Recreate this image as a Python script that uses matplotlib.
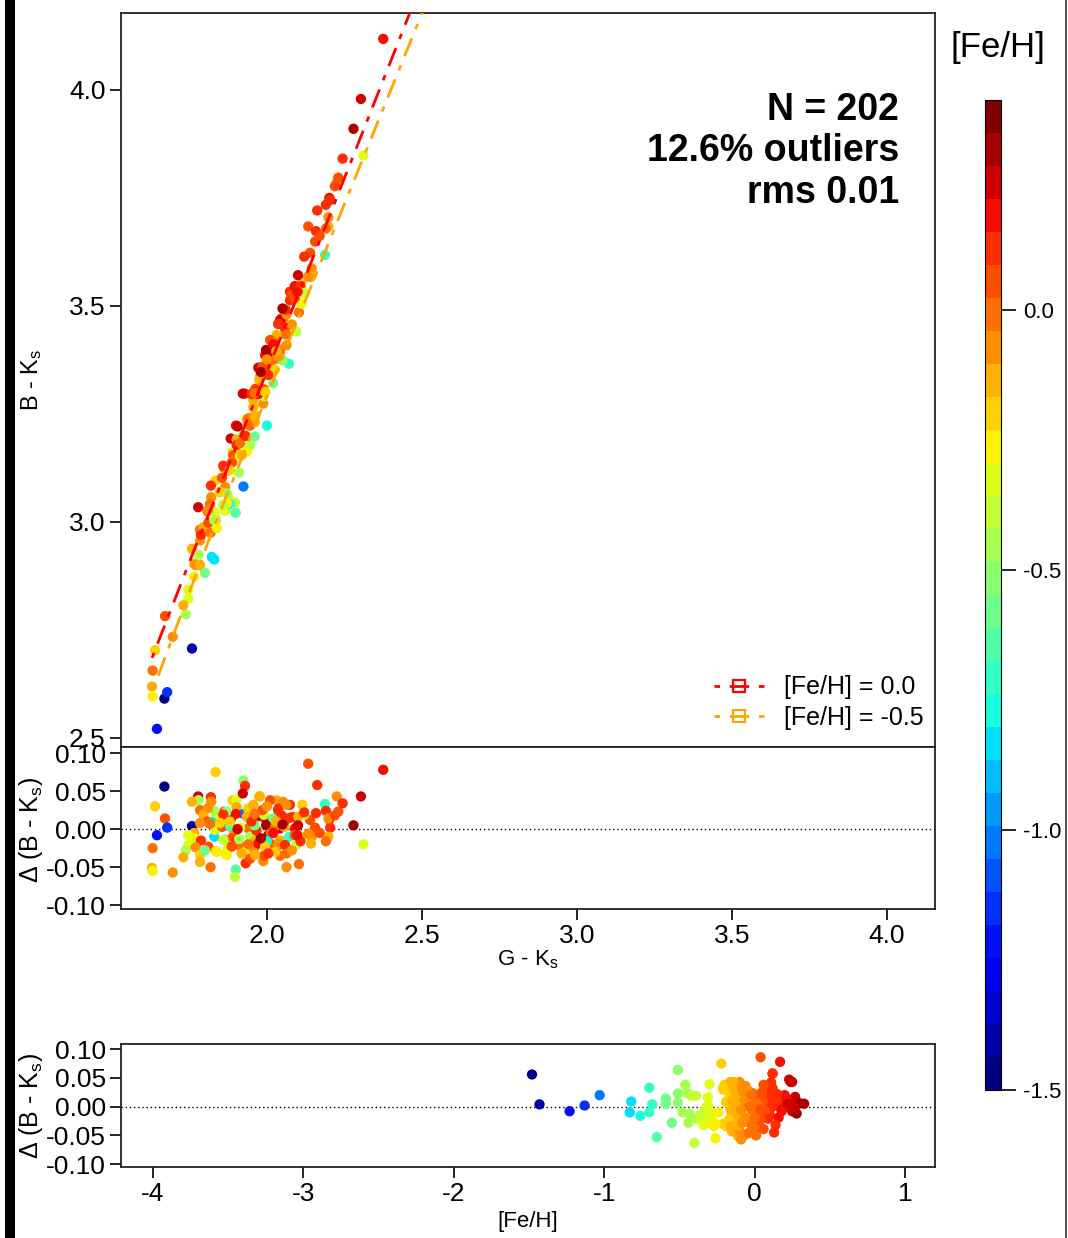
import numpy as np
import matplotlib.pyplot as plt
from matplotlib.colors import Normalize
from matplotlib.cm import ScalarMappable
from matplotlib.lines import Line2D
from matplotlib.patches import Rectangle

plt.rcParams['font.family'] = ['Liberation Sans', 'DejaVu Sans']
plt.rcParams['mathtext.fontset'] = 'custom'
plt.rcParams['mathtext.rm'] = 'Liberation Sans'
plt.rcParams['mathtext.it'] = 'Liberation Sans:italic'

# star colours G-Ks, B-Ks, residual and metallicity
g_k = [1.669, 1.639, 1.671, 1.678, 1.645, 1.631, 1.629, 1.631, 1.696, 1.758,
       1.778, 1.779, 1.758, 1.834, 1.819, 1.820, 1.784, 1.795, 1.808, 1.832,
       1.784, 1.765, 1.765, 1.746, 1.738, 1.730, 1.787, 1.770, 1.784, 1.784,
       1.818, 1.830, 1.832, 1.811, 1.835, 1.822, 1.861, 1.865, 1.875, 1.865,
       1.871, 1.855, 1.883, 1.889, 1.902, 1.902, 1.924, 1.929, 1.922, 1.924,
       1.939, 1.956, 1.975, 1.891, 1.902, 1.913, 1.889, 1.935, 1.940, 1.945,
       1.935, 1.931, 1.945, 1.899, 1.897, 1.962, 1.972, 1.994, 2.004, 2.010,
       1.988, 1.990, 1.958, 1.962, 2.020, 2.036, 2.031, 2.052, 2.047, 2.042,
       2.042, 2.031, 2.042, 2.063, 2.071, 2.074, 2.083, 2.090, 2.094, 2.103,
       2.114, 2.111, 2.108, 2.133, 2.162, 2.139, 2.158, 2.155, 2.144, 2.142,
       2.187, 2.190, 2.201, 2.204, 2.198, 2.190, 2.225, 2.230, 2.244, 2.279,
       2.303, 2.311, 2.375, 1.997, 2.013, 2.056, 1.966, 1.956, 1.913, 1.881,
       2.000, 1.960, 1.800, 1.870, 2.050, 1.830, 1.990, 2.120, 1.910, 1.977,
       2.010, 2.037, 2.063, 2.026, 2.074, 2.090, 1.972, 1.994, 2.037, 2.026,
       2.058, 2.063, 1.918, 1.886, 1.870, 1.961, 2.004, 2.198, 2.219, 2.101,
       2.098, 2.133, 1.859, 1.816, 1.848, 1.746, 1.838, 1.859, 1.950, 2.020,
       1.985, 2.060, 1.900, 2.100, 2.000, 1.940, 2.170, 2.120, 1.880, 2.080,
       1.960, 2.030, 1.810, 1.980, 2.050, 1.905]

b_k = [2.591, 2.703, 2.782, 2.606, 2.521, 2.656, 2.619, 2.596, 2.734, 2.707,
       3.034, 2.924, 2.938, 3.096, 3.084, 3.057, 2.982, 2.988, 3.025, 3.022,
       2.957, 2.903, 2.873, 2.822, 2.786, 2.807, 2.970, 2.900, 2.900, 2.899,
       2.975, 2.913, 3.005, 2.998, 3.004, 2.919, 3.126, 3.081, 3.058, 3.026,
       3.118, 3.102, 3.193, 3.161, 3.171, 3.191, 3.204, 3.297, 3.297, 3.082,
       3.240, 3.283, 3.329, 3.154, 3.178, 3.182, 3.139, 3.237, 3.239, 3.177,
       3.163, 3.199, 3.223, 3.021, 3.045, 3.308, 3.357, 3.386, 3.390, 3.359,
       3.274, 3.307, 3.244, 3.247, 3.321, 3.458, 3.432, 3.468, 3.471, 3.467,
       3.399, 3.378, 3.394, 3.409, 3.366, 3.533, 3.526, 3.546, 3.441, 3.485,
       3.560, 3.505, 3.546, 3.684, 3.721, 3.623, 3.673, 3.649, 3.587, 3.567,
       3.618, 3.734, 3.750, 3.745, 3.684, 3.679, 3.786, 3.797, 3.841, 3.910,
       3.979, 3.848, 4.118, 3.398, 3.371, 3.434, 3.305, 3.266, 3.153, 3.041,
       3.223, 3.198, 2.882, 3.066, 3.374, 3.004, 3.291, 3.530, 3.114, 3.337,
       3.421, 3.459, 3.480, 3.415, 3.513, 3.519, 3.296, 3.301, 3.383, 3.352,
       3.448, 3.434, 3.155, 3.137, 3.043, 3.231, 3.340, 3.705, 3.777, 3.533,
       3.533, 3.568, 3.130, 3.041, 3.069, 2.843, 2.986, 3.040, 3.296, 3.411,
       3.359, 3.491, 3.223, 3.571, 3.376, 3.225, 3.662, 3.614, 3.120, 3.457,
       3.298, 3.395, 3.027, 3.347, 3.494, 3.221]

d_bk = [0.056, 0.030, 0.014, 0.002, -0.008, -0.025, -0.051, -0.055, -0.057, 0.004,
        0.043, 0.038, 0.036, 0.075, 0.042, 0.036, 0.025, 0.019, 0.010, 0.016,
        0.008, -0.005, -0.012, -0.021, -0.028, -0.037, -0.015, -0.024, -0.034, -0.043,
        -0.050, -0.010, -0.001, -0.023, -0.029, 0.009, 0.023, -0.014, -0.025, -0.032,
        0.005, 0.003, 0.013, 0.038, 0.039, 0.029, 0.064, 0.057, 0.047, 0.020,
        0.027, 0.032, 0.043, -0.010, -0.014, -0.022, 0.001, 0.016, 0.001, -0.010,
        -0.028, -0.045, -0.039, -0.053, -0.063, 0.016, 0.017, 0.014, -0.008, -0.019,
        -0.042, -0.035, -0.026, -0.015, 0.014, 0.025, 0.038, 0.036, 0.018, 0.001,
        -0.015, -0.023, -0.035, -0.050, -0.010, 0.032, 0.016, 0.001, -0.021, -0.046,
        0.032, -0.010, -0.016, 0.086, 0.058, 0.012, 0.021, 0.002, -0.010, -0.019,
        0.033, 0.024, 0.013, 0.002, -0.010, -0.016, 0.043, 0.023, 0.034, 0.005,
        0.043, -0.020, 0.078, 0.005, -0.005, 0.003, -0.002, 0.007, 0.002, 0.004,
        -0.016, 0.005, -0.028, 0.023, 0.007, 0.024, 0.019, 0.019, -0.013, 0.043,
        0.038, 0.027, 0.032, 0.003, 0.015, -0.008, -0.019, -0.023, -0.019, -0.030,
        -0.021, -0.032, -0.032, -0.023, -0.034, -0.034, -0.032, 0.014, 0.018, 0.016,
        -0.008, -0.006, 0.019, 0.007, 0.008, -0.008, -0.030, -0.014, 0.010, -0.005,
        0.025, 0.012, 0.020, 0.005, 0.030, -0.020, -0.005, 0.022, 0.010, -0.028,
        0.020, 0.010, 0.028, -0.012, 0.006, 0.000]

feh = [-1.48, -0.21, 0.06, -1.13, -1.23, -0.04, -0.11, -0.26, -0.09, -1.43,
       0.24, -0.46, -0.13, -0.22, 0.11, -0.06, -0.03, -0.12, 0.04, -0.31,
       -0.08, -0.16, -0.29, -0.35, -0.44, -0.14, 0.09, -0.10, -0.19, -0.15,
       0.01, -0.83, -0.32, 0.03, -0.17, -0.82, -0.01, -0.09, -0.28, -0.34,
       -0.05, 0.07, 0.26, -0.20, -0.30, -0.12, -0.51, 0.12, 0.23, -1.03,
       -0.18, -0.14, -0.16, 0.05, 0.10, 0.02, -0.07, -0.11, -0.04, -0.48,
       -0.29, 0.13, 0.06, -0.65, -0.40, 0.04, 0.27, 0.21, 0.25, 0.07,
       -0.10, 0.03, -0.06, -0.15, -0.59, 0.09, -0.13, -0.08, 0.11, 0.22,
       -0.12, -0.03, 0.00, -0.07, -0.70, 0.12, 0.04, 0.19, -0.39, -0.04,
       -0.21, -0.24, 0.10, 0.04, 0.12, 0.06, 0.13, 0.08, -0.09, -0.15,
       -0.70, 0.10, 0.16, 0.14, -0.11, 0.01, -0.10, 0.05, 0.09, 0.33,
       0.25, -0.30, 0.17, 0.29, -0.02, -0.14, 0.11, -0.12, -0.31, -0.68,
       -0.76, -0.59, -0.55, -0.51, -0.51, -0.45, -0.42, -0.39, -0.43, -0.14,
       0.06, 0.11, -0.08, 0.02, 0.13, 0.07, 0.16, -0.17, -0.06, -0.21,
       0.09, -0.02, -0.11, 0.04, -0.27, -0.16, 0.14, -0.07, 0.03, -0.13,
       0.18, -0.09, 0.12, 0.01, -0.19, -0.33, -0.26, -0.36, 0.15, 0.18,
       0.05, 0.12, 0.20, 0.22, -0.05, 0.00, 0.04, 0.15, -0.18, -0.08,
       -0.02, -0.15, -0.08, 0.28, 0.30, 0.26]

# calibration relations at fixed metallicity
line_gk_0 = [1.629, 1.761, 2.116, 2.470]
line_bk_0 = [2.685, 2.928, 3.553, 4.195]
line_gk_05 = [1.632, 1.816, 2.203, 2.510]
line_bk_05 = [2.611, 2.965, 3.653, 4.195]

cmap = plt.get_cmap('jet', 30)
norm = Normalize(vmin=-1.5, vmax=0.404)

W, H = 1068, 1238
fig = plt.figure(figsize=(W / 100, H / 100), dpi=100)

def box(x0, y0, x1, y1):
    # pixel box -> figure fraction
    return [x0 / W, 1 - y1 / H, (x1 - x0) / W, (y1 - y0) / H]

ax_main = fig.add_axes(box(121, 13, 935, 747))
ax_res = fig.add_axes(box(121, 747, 935, 909))
ax_feh = fig.add_axes(box(121, 1044, 935, 1167))
cax = fig.add_axes(box(985, 100, 1001, 1090))

tick_fs = 19
sc_kw = dict(c=feh, cmap=cmap, norm=norm, s=55, linewidths=0)

# main panel
ax_main.scatter(g_k, b_k, zorder=2, **sc_kw)
dd = (2, 3.5, 7, 3.5)
ax_main.plot(line_gk_0, line_bk_0, color='red', lw=2, dashes=dd, zorder=3)
ax_main.plot(line_gk_05, line_bk_05, color='orange', lw=2, dashes=dd, zorder=3)
ax_main.set_xlim(1.529, 4.155)
ax_main.set_ylim(2.479, 4.178)
ax_main.set_yticks([2.5, 3.0, 3.5, 4.0])
ax_main.set_yticklabels(['2.5', '3.0', '3.5', '4.0'])
ax_main.set_xticks([])
ax_main.set_ylabel('B - K$_\\mathrm{s}$', fontsize=17)
ax_main.yaxis.set_label_coords(-0.095, 0.5)
ax_main.text(0.956, 0.893, 'N = 202\n12.6% outliers\nrms 0.01',
             transform=ax_main.transAxes, ha='right', va='top',
             multialignment='right', fontsize=27, fontweight='bold',
             linespacing=1.2)
handles = [Line2D([], [], color='red', lw=2, dashes=dd, marker='s', ms=9,
                  mfc='none', mew=1.6),
           Line2D([], [], color='orange', lw=2, dashes=dd, marker='s', ms=9,
                  mfc='none', mew=1.6)]
ax_main.legend(handles, ['[Fe/H] = 0.0', '[Fe/H] = -0.5'], loc='lower right',
               bbox_to_anchor=(1.008, 0.0), frameon=False, fontsize=18,
               handlelength=2.0, handletextpad=0.8, labelspacing=0.25,
               numpoints=1, borderaxespad=0.3)

# residuals vs G-Ks
ax_res.scatter(g_k, d_bk, zorder=2, **sc_kw)
ax_res.axhline(0, color='black', lw=1, ls=(0, (1, 2)), zorder=1)
ax_res.set_xlim(1.529, 4.155)
ax_res.set_ylim(-0.105, 0.108)
ax_res.set_xticks([2.0, 2.5, 3.0, 3.5, 4.0])
ax_res.set_xticklabels(['2.0', '2.5', '3.0', '3.5', '4.0'])
ax_res.set_yticks([-0.10, -0.05, 0.0, 0.05, 0.10])
ax_res.set_yticklabels(['-0.10', '-0.05', '0.00', '0.05', '0.10'])
ax_res.set_xlabel('G - K$_\\mathrm{s}$', fontsize=16)
ax_res.xaxis.set_label_coords(0.5, (909 - 948) / 162)
ax_res.set_ylabel('Δ (B - K$_\\mathrm{s}$)', fontsize=18)
ax_res.yaxis.set_label_coords(-0.093, 0.49)

# residuals vs [Fe/H]
ax_feh.scatter(feh, d_bk, zorder=2, **sc_kw)
ax_feh.axhline(0, color='black', lw=1, ls=(0, (1, 2)), zorder=1)
ax_feh.set_xlim(-4.213, 1.2)
ax_feh.set_ylim(-0.105, 0.109)
ax_feh.set_xticks([-4, -3, -2, -1, 0, 1])
ax_feh.set_xticklabels(['-4', '-3', '-2', '-1', '0', '1'])
ax_feh.set_yticks([-0.10, -0.05, 0.0, 0.05, 0.10])
ax_feh.set_yticklabels(['-0.10', '-0.05', '0.00', '0.05', '0.10'])
ax_feh.set_xlabel('[Fe/H]', fontsize=16)
ax_feh.xaxis.set_label_coords(0.5, (1167 - 1211) / 123)
ax_feh.set_ylabel('Δ (B - K$_\\mathrm{s}$)', fontsize=18)
ax_feh.yaxis.set_label_coords(-0.093, 0.5)

for ax in (ax_main, ax_res, ax_feh):
    ax.tick_params(labelsize=tick_fs, length=8, width=1.2, direction='out',
                   pad=3)
    for sp in ax.spines.values():
        sp.set_linewidth(1.3)
        sp.set_color('#222222')

# colour bar
cb = fig.colorbar(ScalarMappable(norm=norm, cmap=cmap), cax=cax)
cb.set_ticks([-1.5, -1.0, -0.5, 0.0])
cb.set_ticklabels(['-1.5', '-1.0', '-0.5', '0.0'])
cb.ax.tick_params(labelsize=16, length=11, width=1.2, pad=5)
cb.outline.set_linewidth(0.8)
fig.text(998 / W, 1 - 48 / H, '[Fe/H]', ha='center', va='center', fontsize=25)

# dark strip along the left edge of the original figure
fig.patches.append(Rectangle((5 / W, 0), 10 / W, 1, transform=fig.transFigure,
                             facecolor='black', edgecolor='none'))
fig.patches.append(Rectangle((1065 / W, 0), 2 / W, 1, transform=fig.transFigure,
                             facecolor='#555555', edgecolor='none'))

fig.savefig('out.png', dpi=100)
